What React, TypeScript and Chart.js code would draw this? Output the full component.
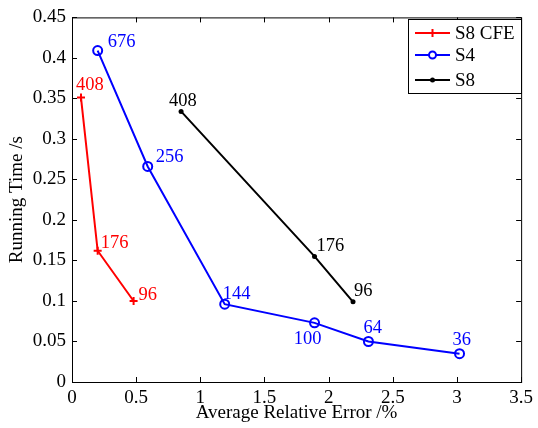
import React, { useEffect, useRef } from "react";
import { Chart, registerables } from "chart.js";

Chart.register(...registerables);

// Average relative error (%) vs running time (s) for each method
const cfeError = [0.07, 0.2, 0.48];
const cfeTime = [0.351, 0.162, 0.1];
const cfeLabels = ["408", "176", "96"];

const s4Error = [0.2, 0.59, 1.19, 1.89, 2.31, 3.02];
const s4Time = [0.409, 0.266, 0.096, 0.073, 0.05, 0.035];
const s4Labels = ["676", "256", "144", "100", "64", "36"];

const s8Error = [0.85, 1.89, 2.19];
const s8Time = [0.334, 0.155, 0.099];
const s8Labels = ["408", "176", "96"];

const seriesNames = ["S8 CFE", "S4", "S8"];
const xTicks = [0, 0.5, 1, 1.5, 2, 2.5, 3, 3.5];
const yTicks = [0, 0.05, 0.1, 0.15, 0.2, 0.25, 0.3, 0.35, 0.4, 0.45];

const FONT = "'Liberation Serif', 'Times New Roman', serif";
const RED = "#ff0000";
const BLUE = "#0000ff";
const BLACK = "#000000";

// label placement: [dx, dy, align] relative to the point
const cfeOffsets: [number, number, CanvasTextAlign][] = [
  [-5, -8, "left"],
  [3, -3, "left"],
  [5, -1, "left"],
];
const s4Offsets: [number, number, CanvasTextAlign][] = [
  [10, -4, "left"],
  [8, -4, "left"],
  [-2, -5, "left"],
  [-7, 21, "center"],
  [-5, -8, "left"],
  [-7, -9, "left"],
];
const s8Offsets: [number, number, CanvasTextAlign][] = [
  [-12, -5, "left"],
  [2, -5, "left"],
  [1, -6, "left"],
];

const toPoints = (xs: number[], ys: number[]) => xs.map((x, i) => ({ x, y: ys[i] }));

const fmt = (v: number) => String(Number(v.toFixed(2)));

const frameAndLabels = {
  id: "frameAndLabels",
  afterDraw(chart: any) {
    const { ctx, chartArea: a, scales } = chart;
    const xs = scales.x;
    const ys = scales.y;
    ctx.save();
    // axes box
    ctx.strokeStyle = BLACK;
    ctx.lineWidth = 1;
    ctx.strokeRect(a.left + 0.5, a.top + 0.5, a.right - a.left, a.bottom - a.top);
    // inward tick marks on all four sides
    const tl = 5;
    ctx.beginPath();
    xTicks.forEach((t) => {
      const px = Math.round(xs.getPixelForValue(t)) + 0.5;
      ctx.moveTo(px, a.bottom);
      ctx.lineTo(px, a.bottom - tl);
      ctx.moveTo(px, a.top);
      ctx.lineTo(px, a.top + tl);
    });
    yTicks.forEach((t) => {
      const py = Math.round(ys.getPixelForValue(t)) + 0.5;
      ctx.moveTo(a.left, py);
      ctx.lineTo(a.left + tl, py);
      ctx.moveTo(a.right, py);
      ctx.lineTo(a.right - tl, py);
    });
    ctx.stroke();

    // point labels
    ctx.font = `18.5px ${FONT}`;
    ctx.textBaseline = "alphabetic";
    const groups: [number, string[], [number, number, CanvasTextAlign][], string][] = [
      [0, cfeLabels, cfeOffsets, RED],
      [1, s4Labels, s4Offsets, BLUE],
      [2, s8Labels, s8Offsets, BLACK],
    ];
    groups.forEach(([di, labels, offs, color]) => {
      const meta = chart.getDatasetMeta(di);
      ctx.fillStyle = color;
      meta.data.forEach((el: any, i: number) => {
        const [dx, dy, align] = offs[i];
        ctx.textAlign = align;
        ctx.fillText(labels[i], el.x + dx, el.y + dy);
      });
    });

    // legend box
    const lx = 408.5, ly = 19.5, lw = 113, lh = 74;
    ctx.fillStyle = "#ffffff";
    ctx.fillRect(lx, ly, lw, lh);
    ctx.strokeStyle = BLACK;
    ctx.lineWidth = 1;
    ctx.strokeRect(lx, ly, lw, lh);
    const rows = [33, 55, 80];
    const colors = [RED, BLUE, BLACK];
    ctx.font = `19px ${FONT}`;
    ctx.textAlign = "left";
    ctx.textBaseline = "middle";
    rows.forEach((ry, i) => {
      ctx.strokeStyle = colors[i];
      ctx.lineWidth = 2;
      ctx.beginPath();
      ctx.moveTo(415, ry);
      ctx.lineTo(450, ry);
      ctx.stroke();
      const cx = 432.5;
      if (i === 0) {
        ctx.beginPath();
        ctx.moveTo(cx - 4, ry);
        ctx.lineTo(cx + 4, ry);
        ctx.moveTo(cx, ry - 4);
        ctx.lineTo(cx, ry + 4);
        ctx.stroke();
      } else if (i === 1) {
        ctx.beginPath();
        ctx.arc(cx, ry, 3.5, 0, Math.PI * 2);
        ctx.fillStyle = "#ffffff";
        ctx.fill();
        ctx.stroke();
      } else {
        ctx.beginPath();
        ctx.arc(cx, ry, 2.5, 0, Math.PI * 2);
        ctx.fillStyle = BLACK;
        ctx.fill();
      }
      ctx.fillStyle = BLACK;
      ctx.fillText(seriesNames[i], 455, ry + 1);
    });
    ctx.restore();
  },
};

export default function App() {
  const ref = useRef<HTMLCanvasElement>(null);

  useEffect(() => {
    if (!ref.current) return;
    const chart = new Chart(ref.current, {
      type: "line",
      data: {
        datasets: [
          {
            label: seriesNames[0],
            data: toPoints(cfeError, cfeTime),
            borderColor: RED,
            backgroundColor: RED,
            borderWidth: 2,
            pointStyle: "cross",
            pointRadius: 4,
            pointBorderWidth: 2,
            tension: 0,
          },
          {
            label: seriesNames[1],
            data: toPoints(s4Error, s4Time),
            borderColor: BLUE,
            backgroundColor: "rgba(0,0,0,0)",
            borderWidth: 2,
            pointStyle: "circle",
            pointRadius: 4.5,
            pointBorderWidth: 2,
            tension: 0,
          },
          {
            label: seriesNames[2],
            data: toPoints(s8Error, s8Time),
            borderColor: BLACK,
            backgroundColor: BLACK,
            borderWidth: 2,
            pointStyle: "circle",
            pointRadius: 2.5,
            pointBorderWidth: 0,
            tension: 0,
          },
        ],
      },
      options: {
        responsive: false,
        animation: false,
        layout: { padding: { top: 13, right: 11, left: 0, bottom: 0 } },
        plugins: { legend: { display: false }, tooltip: { enabled: false } },
        scales: {
          x: {
            type: "linear",
            min: 0,
            max: 3.5,
            afterBuildTicks: (s: any) => {
              s.ticks = xTicks.map((v) => ({ value: v }));
            },
            afterFit: (s: any) => {
              s.height = 46;
            },
            grid: { display: false, drawTicks: false },
            border: { display: false },
            ticks: {
              color: BLACK,
              font: { family: FONT, size: 19 },
              padding: 5,
              maxRotation: 0,
              callback: (v: any) => fmt(Number(v)),
            },
            title: {
              display: true,
              text: "Average Relative Error /%",
              color: BLACK,
              font: { family: FONT, size: 19 },
              padding: { top: 0, bottom: 4 },
            },
          },
          y: {
            type: "linear",
            min: 0,
            max: 0.45,
            afterBuildTicks: (s: any) => {
              s.ticks = yTicks.map((v) => ({ value: v }));
            },
            afterFit: (s: any) => {
              s.width = 72;
            },
            grid: { display: false, drawTicks: false },
            border: { display: false },
            ticks: {
              color: BLACK,
              font: { family: FONT, size: 19 },
              padding: 6,
              callback: (v: any) => fmt(Number(v)),
            },
            title: {
              display: true,
              text: "Running Time /s",
              color: BLACK,
              font: { family: FONT, size: 19 },
              padding: { top: 6, bottom: 0 },
            },
          },
        },
      },
      plugins: [frameAndLabels],
    });
    return () => chart.destroy();
  }, []);

  return (
    <div style={{ position: "absolute", left: 0, top: 0, width: 538, height: 428, background: "#fff" }}>
      <canvas ref={ref} width={538} height={428} />
    </div>
  );
}
